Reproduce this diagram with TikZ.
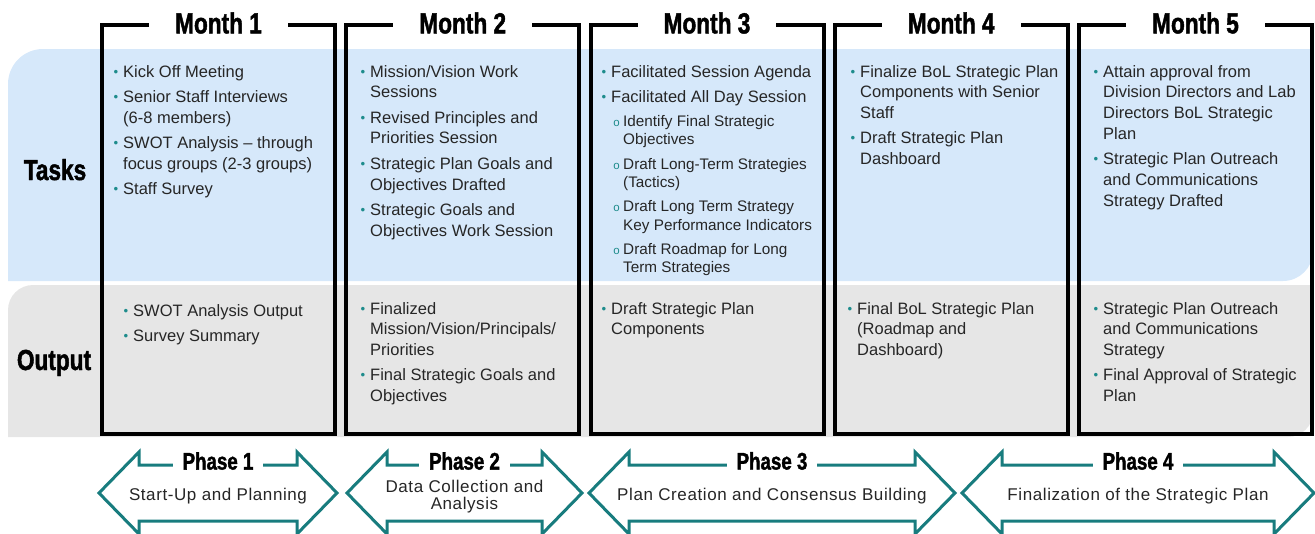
\documentclass[tikz,border=0pt]{standalone}
\usepackage{fontspec}
\usepackage{graphicx}
\setmainfont{Liberation Sans}
\newfontfamily\cond{Liberation Sans}[FakeStretch=0.78,BoldFeatures={FakeBold=1.5}]
\newfontfamily\arrfont{Liberation Sans}[LetterSpace=3.5]
\definecolor{bandblue}{RGB}{214,232,250}
\definecolor{bandgray}{RGB}{230,230,230}
\definecolor{tealline}{RGB}{24,124,126}
\definecolor{bulc}{RGB}{30,140,140}
\definecolor{txt}{RGB}{38,38,38}
\newcommand\bul{\leavevmode\llap{\textcolor{bulc}{\raisebox{1pt}{\scalebox{0.8}{•}}}\hspace{5pt}}}
\newcommand\sbul{\leavevmode\llap{\textcolor{bulc}{\fontsize{11.5}{11.5}\selectfont o}\hspace{3.5pt}}}
\newcommand\bi{\par\vspace{4.5pt}\bul}
\newcommand\si{\par\vspace{6pt}\leftskip=12pt\fontsize{15.3}{18.3}\selectfont\sbul}
\newcommand\cellbox[1]{\parbox[t]{250pt}{\raggedright\fontsize{16.5}{20.8}\selectfont #1}}
\begin{document}
\begin{tikzpicture}[x=1pt,y=1pt,
  monthbox/.style={draw=black,line width=4pt},
  monthlbl/.style={fill=white,inner xsep=26pt,inner ysep=1pt,font=\cond\bfseries\fontsize{29}{29}\selectfont},
  rowlbl/.style={anchor=base,inner sep=0pt,font=\cond\bfseries\fontsize{29}{29}\selectfont},
  cell/.style={anchor=base west,inner sep=0pt,text=txt},
  phasearrow/.style={draw=tealline,line width=3pt,line join=miter,fill=white},
  phaselbl/.style={fill=white,inner xsep=10pt,inner ysep=1pt,font=\cond\bfseries\fontsize{24}{24}\selectfont},
  phasetxt/.style={align=center,inner sep=0pt,font=\arrfont\fontsize{17}{17}\selectfont,text=txt},
]
\useasboundingbox (0,0) rectangle (1315,-533);
% bands
\fill[bandblue] (8,-281) -- (8,-84) arc[start angle=180,end angle=90,radius=35] -- (1313,-49) -- (1313,-251) arc[start angle=0,end angle=-90,radius=30] -- cycle;
\fill[bandgray] (8,-437) -- (8,-310) arc[start angle=180,end angle=90,radius=25] -- (1313,-285) -- (1313,-412) arc[start angle=0,end angle=-90,radius=25] -- cycle;
% row labels
\node[rowlbl] (tasks) at (55,-180) {Tasks};
\node[rowlbl] (output) at (54,-370) {Output};
% month boxes
\foreach \l/\n in {102/1,346.25/2,590.5/3,834.75/4,1079/5}{
  \draw[monthbox] (\l,-25) rectangle (\l+233,-434);
  \node[monthlbl] (m\n) at (\l+116.5,-23) {Month \n};
}
% tasks
\node[cell] (t1) at (123,-77) {\cellbox{\bul Kick Off Meeting
\bi Senior Staff Interviews\\(6-8 members)
\bi SWOT Analysis \textendash\ through\\focus groups (2-3 groups)
\bi Staff Survey}};
\node[cell] (t2) at (370,-77) {\cellbox{\bul Mission/Vision Work\\Sessions
\bi Revised Principles and\\Priorities Session
\bi Strategic Plan Goals and\\Objectives Drafted
\bi Strategic Goals and\\Objectives Work Session}};
\node[cell] (t3) at (611,-77) {\cellbox{\bul Facilitated Session Agenda
\bi Facilitated All Day Session
\si Identify Final Strategic\\Objectives
\si Draft Long-Term Strategies\\(Tactics)
\si Draft Long Term Strategy\\Key Performance Indicators
\si Draft Roadmap for Long\\Term Strategies}};
\node[cell] (t4) at (860,-77) {\cellbox{\bul Finalize BoL Strategic Plan\\Components with Senior\\Staff
\bi Draft Strategic Plan\\Dashboard}};
\node[cell] (t5) at (1103,-77) {\cellbox{\bul Attain approval from\\Division Directors and Lab\\Directors BoL Strategic\\Plan
\bi Strategic Plan Outreach\\and Communications\\Strategy Drafted}};
% outputs
\node[cell] (o1) at (133,-316) {\cellbox{\bul SWOT Analysis Output
\bi Survey Summary}};
\node[cell] (o2) at (370,-314) {\cellbox{\bul Finalized\\Mission/Vision/Principals/\\Priorities
\bi Final Strategic Goals and\\Objectives}};
\node[cell] (o3) at (611,-314) {\cellbox{\bul Draft Strategic Plan\\Components}};
\node[cell] (o4) at (857,-314) {\cellbox{\bul Final BoL Strategic Plan\\(Roadmap and\\Dashboard)}};
\node[cell] (o5) at (1103,-314) {\cellbox{\bul Strategic Plan Outreach\\and Communications\\Strategy
\bi Final Approval of Strategic\\Plan}};
% phase arrows
\foreach \a/\b/\n in {99/337/1,347/582/2,589/955/3,962/1314/4}{
  \draw[phasearrow] (\a,-493) -- (\a+40,-452) -- (\a+40,-465) -- (\b-40,-465) -- (\b-40,-452) -- (\b,-493) -- (\b-40,-534) -- (\b-40,-521) -- (\a+40,-521) -- (\a+40,-534) -- cycle;
  \node[phaselbl] (ph\n) at ({(\a+\b)/2},-461) {Phase \n};
}
\node[phasetxt,anchor=base] (pt1) at (218,-500) {Start-Up and Planning};
\node[phasetxt,anchor=center] (pt2) at (464.5,-497) {Data Collection and\\Analysis};
\node[phasetxt,anchor=base] (pt3) at (772,-500) {Plan Creation and Consensus Building};
\node[phasetxt,anchor=base] (pt4) at (1138,-500) {Finalization of the Strategic Plan};
\end{tikzpicture}
\end{document}
